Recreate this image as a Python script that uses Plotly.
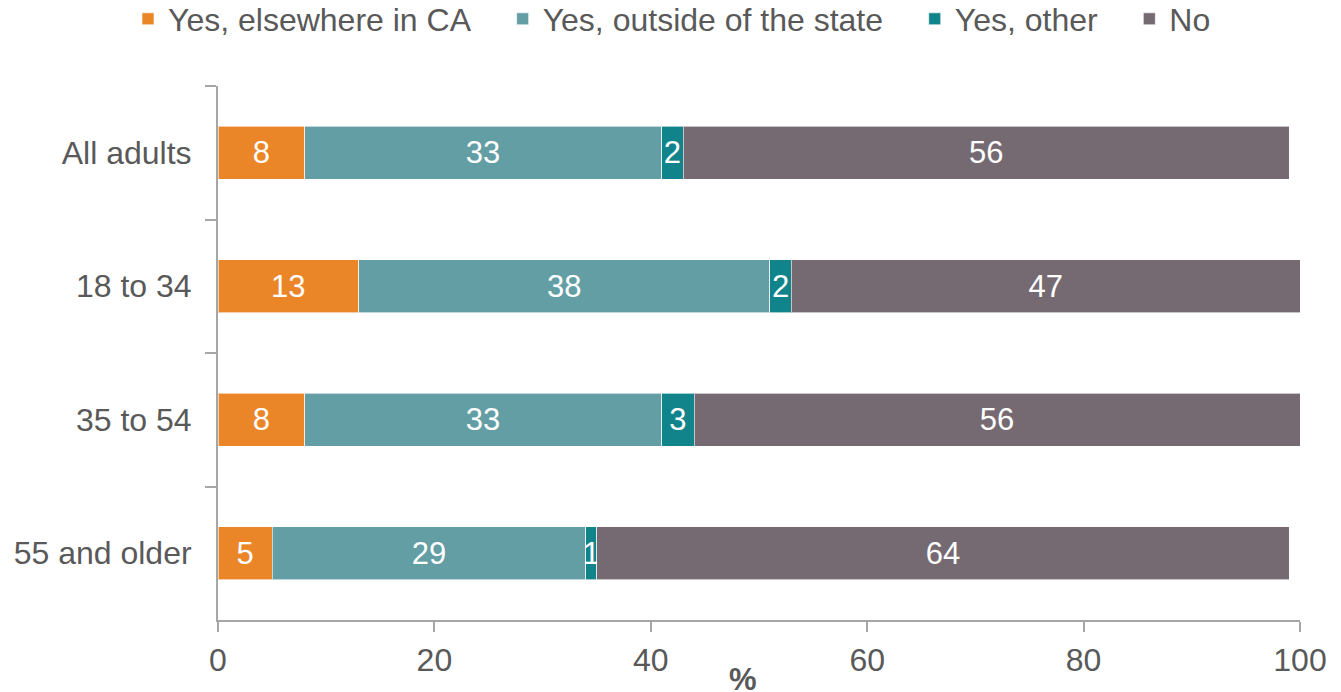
import plotly.graph_objects as go

categories = ["All adults", "18 to 34", "35 to 54", "55 and older"]
series_names = ["Yes, elsewhere in CA", "Yes, outside of the state", "Yes, other", "No"]
yes_ca = [8, 13, 8, 5]
yes_outside = [33, 38, 33, 29]
yes_other = [2, 2, 3, 1]
no_vals = [56, 47, 56, 64]
colors = ["#EA8628", "#639EA5", "#11838A", "#766A72"]
x_ticks = [0, 20, 40, 60, 80, 100]

FONT = "Liberation Sans, Arial, sans-serif"
TXT = "#595959"
AX = "#A6A6A6"
PAD = "\u00a0\u00a0\u00a0"

fig = go.Figure()
n = len(series_names)
for i, (name, vals, col) in enumerate(zip(series_names, [yes_ca, yes_outside, yes_other, no_vals], colors)):
    fig.add_trace(go.Bar(
        y=categories, x=vals, name=name + (PAD if i < n - 1 else ""), orientation="h",
        marker=dict(color=col, line=dict(color="rgba(255,255,255,0.6)", width=1)),
        text=[str(v) for v in vals], textposition="inside", insidetextanchor="middle",
        textangle=0, constraintext="none",
        textfont=dict(family=FONT, size=31, color="white"),
        hoverinfo="skip",
    ))

fig.update_layout(
    barmode="stack",
    bargap=0.6,
    width=1341, height=692,
    margin=dict(l=218, r=41, t=86, b=72, autoexpand=False),
    paper_bgcolor="white", plot_bgcolor="white",
    font=dict(family=FONT, color=TXT),
    showlegend=True,
    legend=dict(
        orientation="h", xref="paper", x=(128 - 218) / 1082, xanchor="left",
        yref="paper", y=(620 - 19) / 534, yanchor="middle",
        font=dict(family=FONT, size=32, color=TXT),
        traceorder="normal", itemclick=False, itemdoubleclick=False,
        tracegroupgap=0, itemwidth=30,
    ),
    xaxis=dict(
        range=[0, 100], tickvals=x_ticks, ticktext=[str(v) for v in x_ticks],
        showgrid=False, zeroline=False,
        showline=True, linecolor=AX, linewidth=2,
        ticks="outside", ticklen=10, tickcolor=AX, tickwidth=2,
        tickfont=dict(family=FONT, size=32, color=TXT),
        ticklabelstandoff=1,
    ),
    yaxis=dict(
        categoryorder="array", categoryarray=categories,
        autorange="reversed",
        showgrid=False, zeroline=False,
        showline=True, linecolor=AX, linewidth=2,
        ticks="outside", tickson="boundaries", ticklen=11, tickcolor=AX, tickwidth=2,
        tickfont=dict(family=FONT, size=32, color=TXT),
        ticklabelstandoff=18,
    ),
    annotations=[dict(
        text="<b>%</b>", xref="paper", yref="paper", x=(743 - 218) / 1082, y=0,
        yshift=-59, yanchor="middle", xanchor="center", showarrow=False,
        font=dict(family=FONT, size=31, color=TXT),
    )],
)

fig.write_html(
    "out.html",
    config={"displayModeBar": False},
    post_script="document.body.style.margin='0';document.body.style.padding='0';",
)
